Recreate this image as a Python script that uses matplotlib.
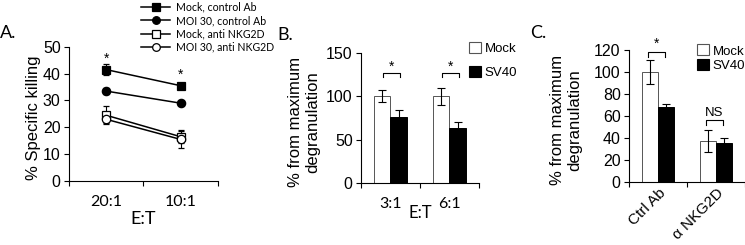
import matplotlib
matplotlib.use("Agg")
import matplotlib.pyplot as plt
import matplotlib.transforms as mtransforms
from matplotlib.lines import Line2D
from matplotlib.patches import Patch

ARIAL = "Liberation Sans"
CALIBRI = "Lato"
plt.rcParams["font.family"] = ARIAL

# Panel A: specific killing
et_ratios_a = ["20:1", "10:1"]
mock_ctrl = [41.5, 35.5]
mock_ctrl_err = [2.0, 1.0]
moi_ctrl = [33.5, 29.0]
moi_ctrl_err = [1.0, 0.8]
mock_anti = [24.5, 16.5]
mock_anti_err = [3.4, 2.5]
moi_anti = [23.0, 15.5]
moi_anti_err = [1.5, 3.2]
legend_a = ["Mock, control Ab", "MOI 30, control Ab", "Mock, anti NKG2D", "MOI 30, anti NKG2D"]

# Panel B: degranulation vs E:T
et_ratios_b = ["3:1", "6:1"]
mock_b = [100, 100]
mock_b_err = [7, 10]
sv40_b = [76, 63]
sv40_b_err = [8, 7]

# Panel C: degranulation with blocking antibody
groups_c = ["Ctrl Ab", "α NKG2D"]
mock_c = [100, 37.5]
mock_c_err = [11, 10]
sv40_c = [68, 35.5]
sv40_c_err = [3, 4.5]

fig = plt.figure(figsize=(7.45, 2.45), dpi=100)


def style_axes(ax):
    for s in ["top", "right"]:
        ax.spines[s].set_visible(False)
    for s in ["left", "bottom"]:
        ax.spines[s].set_linewidth(0.8)
    ax.tick_params(axis="y", direction="out", length=3.5, width=0.8, pad=2.5, labelsize=11.5)
    ax.tick_params(axis="x", which="major", length=0, labelsize=11.5)
    ax.tick_params(axis="x", which="minor", direction="out", length=3.5, width=0.8)
    ax.set_xticks([0, 1, 2], minor=True)
    ax.set_xlim(0, 2)


# ---- A ----
axA = fig.add_axes([0.0926, 0.261, 0.2, 0.548])
style_axes(axA)
xa = [0.5, 1.5]
series = [
    (mock_ctrl, mock_ctrl_err, "s", "black"),
    (moi_ctrl, moi_ctrl_err, "o", "black"),
    (mock_anti, mock_anti_err, "s", "white"),
    (moi_anti, moi_anti_err, "o", "white"),
]
handles = []
for vals, err, m, fc in series:
    axA.errorbar(xa, vals, yerr=err, color="black", lw=1.1, marker=m, ms=6,
                 mfc=fc, mec="black", mew=0.9, capsize=2.5, elinewidth=0.8, capthick=0.8)
    handles.append(Line2D([], [], color="black", lw=1.1, marker=m, ms=5.5, mfc=fc, mec="black", mew=0.9))
axA.set_ylim(0, 50)
axA.set_yticks([0, 10, 20, 30, 40, 50])
axA.set_xticks(xa)
axA.set_xticklabels(et_ratios_a, fontfamily=CALIBRI)
axA.tick_params(axis="x", which="major", pad=10)
axA.set_ylabel("% Specific killing", fontsize=12)
axA.yaxis.set_label_coords(-0.19, 0.47)
axA.set_xlabel("E:T", fontsize=13, fontfamily=CALIBRI)
axA.xaxis.set_label_coords(0.5, -0.22)
axA.text(0.5, 45.5, "*", ha="center", va="center", fontsize=10)
axA.text(1.5, 39.5, "*", ha="center", va="center", fontsize=10)
fig.legend(handles, legend_a, loc="upper left", bbox_to_anchor=(0.184, 1.01), frameon=False,
           prop={"family": CALIBRI, "size": 7.6}, handlelength=2.7, handletextpad=0.55,
           labelspacing=0.22, borderaxespad=0)
fig.text(0.0, 0.865, "A.", fontsize=13, fontfamily=CALIBRI, va="center")


# ---- B and C bar panels ----
def bar_panel(rect, labels, mock, mock_err, sv40, sv40_err):
    ax = fig.add_axes(rect)
    style_axes(ax)
    x = [0.5, 1.5]
    w = 0.28
    ekw = dict(ecolor="black", elinewidth=0.8, capsize=3, capthick=0.8)
    ax.bar([v - w / 2 for v in x], mock, w, yerr=mock_err, color="white", edgecolor="#555555",
           linewidth=0.7, error_kw=ekw)
    ax.bar([v + w / 2 for v in x], sv40, w, yerr=sv40_err, color="black", edgecolor="black",
           linewidth=0.7, error_kw=ekw)
    ax.set_xticks(x)
    ax.set_xticklabels(labels)
    return ax


def bracket(ax, x0, x1, y, drop, text, ty, fs=10):
    ax.plot([x0, x0, x1, x1], [y - drop, y, y, y - drop], color="black", lw=0.8, clip_on=False)
    ax.text((x0 + x1) / 2, ty, text, ha="center", va="center", fontsize=fs)


legend_handles = [Patch(facecolor="white", edgecolor="#555555", lw=0.8),
                  Patch(facecolor="black", edgecolor="black", lw=0.8)]

axB = bar_panel([0.4846, 0.253, 0.158, 0.531], et_ratios_b, mock_b, mock_b_err, sv40_b, sv40_b_err)
axB.set_ylim(0, 150)
axB.set_yticks([0, 50, 100, 150])
for lab in axB.get_xticklabels():
    lab.set_fontfamily(CALIBRI)
axB.tick_params(axis="x", which="major", pad=10)
axB.set_ylabel("% from maximum\ndegranulation", fontsize=12, linespacing=1.2)
axB.yaxis.set_label_coords(-0.345, 0.47)
axB.set_xlabel("E:T", fontsize=12, fontfamily=CALIBRI)
axB.xaxis.set_label_coords(0.5, -0.17)
bracket(axB, 0.37, 0.67, 127, 5, "*", 134)
bracket(axB, 1.37, 1.67, 127, 5, "*", 134)
fig.legend(legend_handles, ["Mock", "SV40"], loc="upper left", bbox_to_anchor=(0.622, 0.85),
           frameon=False, prop={"size": 9.5}, handlelength=0.9, handleheight=0.9,
           handletextpad=0.3, labelspacing=0.8, borderaxespad=0)
fig.text(0.372, 0.857, "B.", fontsize=13, fontfamily=CALIBRI, va="center")

axC = bar_panel([0.8443, 0.257, 0.1557, 0.539], groups_c, mock_c, mock_c_err, sv40_c, sv40_c_err)
axC.set_ylim(0, 120)
axC.set_yticks([0, 20, 40, 60, 80, 100, 120])
shift = mtransforms.ScaledTranslation(10 / 72, 0, fig.dpi_scale_trans)
for lab in axC.get_xticklabels():
    lab.set_rotation(45)
    lab.set_ha("right")
    lab.set_rotation_mode("anchor")
    lab.set_transform(lab.get_transform() + shift)
axC.tick_params(axis="x", which="major", pad=3, labelsize=11)
axC.set_ylabel("% from maximum\ndegranulation", fontsize=12, linespacing=1.2)
axC.yaxis.set_label_coords(-0.405, 0.47)
bracket(axC, 0.33, 0.62, 118, 4, "*", 126)
bracket(axC, 1.33, 1.62, 56, 4, "NS", 63, fs=9.5)
fig.legend(legend_handles, ["Mock", "SV40"], loc="upper left", bbox_to_anchor=(0.928, 0.84),
           frameon=False, prop={"size": 9.5}, handlelength=0.9, handleheight=0.9,
           handletextpad=0.3, labelspacing=0.1, borderaxespad=0)
fig.text(0.712, 0.865, "C.", fontsize=13, fontfamily=CALIBRI, va="center")

fig.savefig("out.png", dpi=100)
